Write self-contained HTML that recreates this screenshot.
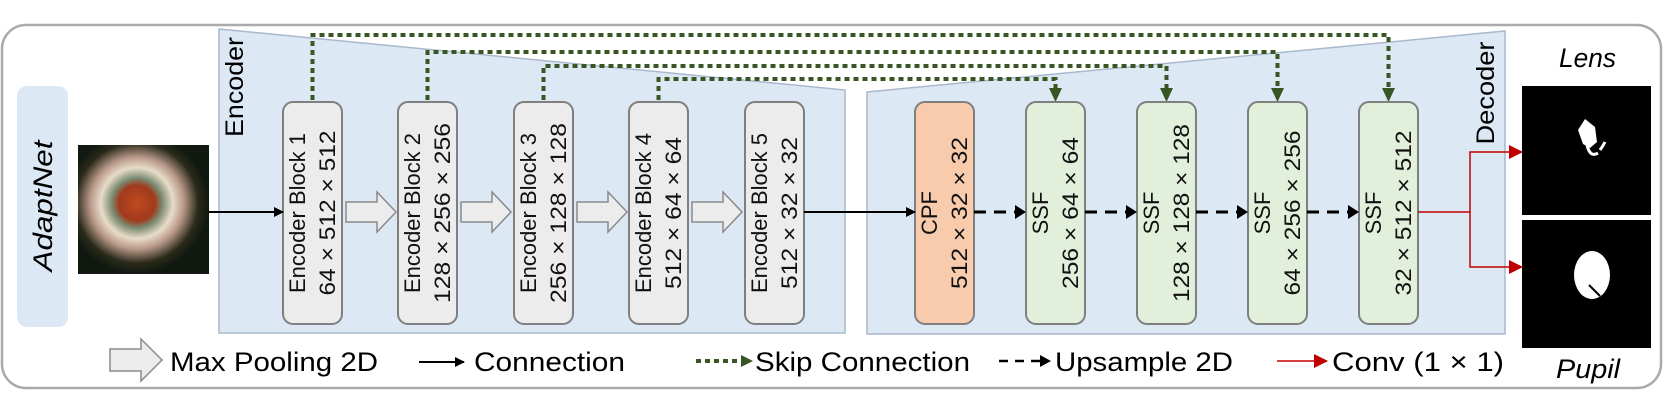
<!DOCTYPE html>
<html><head><meta charset="utf-8"><style>html,body{margin:0;padding:0;background:#fff;}svg{display:block}</style></head>
<body>
<svg width="1664" height="410" viewBox="0 0 1664 410" xmlns="http://www.w3.org/2000/svg" font-family="Liberation Sans, sans-serif">
<defs>
<marker id="ab" markerWidth="10" markerHeight="10" refX="9" refY="5" orient="auto" markerUnits="userSpaceOnUse"><path d="M0,0 L10,5 L0,10 z" fill="#000"/></marker>
<marker id="ar" markerWidth="14" markerHeight="14" refX="13" refY="7" orient="auto" markerUnits="userSpaceOnUse"><path d="M0,0 L14,7 L0,14 z" fill="#c00000"/></marker>
<radialGradient id="eye" cx="0.45" cy="0.45" r="0.55">
<stop offset="0" stop-color="#c04a20"/><stop offset="0.25" stop-color="#a03a1c"/><stop offset="0.35" stop-color="#7a8a70"/><stop offset="0.5" stop-color="#e8dcc8"/><stop offset="0.65" stop-color="#b89888"/><stop offset="0.85" stop-color="#2a2a1a"/><stop offset="1" stop-color="#101810"/>
</radialGradient>
</defs>
<rect x="2" y="25" width="1659" height="363" rx="24" fill="#fff" stroke="#aaa" stroke-width="2.5"/>
<rect x="17" y="86" width="51" height="241" rx="10" fill="#dde8f5"/>
<text transform="translate(52,206) rotate(-90)" text-anchor="middle" font-size="27" font-style="italic" textLength="131" lengthAdjust="spacingAndGlyphs">AdaptNet</text>
<rect x="78" y="145" width="131" height="129" fill="url(#eye)"/>
<polygon points="219,29 845,90 845,333 219,333" fill="#dde8f5" stroke="#a9b8cc" stroke-width="1.5"/>
<polygon points="867,92 1505,31 1505,334 867,334" fill="#dde8f5" stroke="#a9b8cc" stroke-width="1.5"/>
<text transform="translate(243,87) rotate(-90)" text-anchor="middle" font-size="25" textLength="100" lengthAdjust="spacingAndGlyphs">Encoder</text>
<text transform="translate(1494,93) rotate(-90)" text-anchor="middle" font-size="25" textLength="103" lengthAdjust="spacingAndGlyphs">Decoder</text>
<g fill="none" stroke="#375623" stroke-width="4" stroke-dasharray="5 4">
<path d="M312.5,100 V35 H1388.5 V88"/>
<path d="M427.5,100 V52 H1277.5 V88"/>
<path d="M543.5,100 V66 H1166.5 V88"/>
<path d="M658.5,100 V79 H1055.5 V88"/>
</g>
<g fill="#375623">
<path d="M1049,88 L1062,88 L1055.5,102 z"/><path d="M1160,88 L1173,88 L1166.5,102 z"/><path d="M1271,88 L1284,88 L1277.5,102 z"/><path d="M1382,88 L1395,88 L1388.5,102 z"/>
</g>
<g stroke="#7f7f7f" stroke-width="2" fill="#ececec">
<rect x="283" y="102" width="59" height="222" rx="10"/><rect x="398" y="102" width="59" height="222" rx="10"/><rect x="514" y="102" width="59" height="222" rx="10"/><rect x="629" y="102" width="59" height="222" rx="10"/><rect x="745" y="102" width="59" height="222" rx="10"/>
<rect x="915" y="102" width="59" height="222" rx="10" fill="#f8cbad"/>
<rect x="1026" y="102" width="59" height="222" rx="10" fill="#e2efda"/><rect x="1137" y="102" width="59" height="222" rx="10" fill="#e2efda"/><rect x="1248" y="102" width="59" height="222" rx="10" fill="#e2efda"/><rect x="1359" y="102" width="59" height="222" rx="10" fill="#e2efda"/>
</g>
<g font-size="22" text-anchor="middle" fill="#111">
<text transform="translate(305,213) rotate(-90)" textLength="160" lengthAdjust="spacingAndGlyphs">Encoder Block 1</text><text transform="translate(335,213) rotate(-90)" textLength="165" lengthAdjust="spacingAndGlyphs">64 × 512 × 512</text>
<text transform="translate(420,213) rotate(-90)" textLength="160" lengthAdjust="spacingAndGlyphs">Encoder Block 2</text><text transform="translate(450,213) rotate(-90)" textLength="180" lengthAdjust="spacingAndGlyphs">128 × 256 × 256</text>
<text transform="translate(536,213) rotate(-90)" textLength="160" lengthAdjust="spacingAndGlyphs">Encoder Block 3</text><text transform="translate(566,213) rotate(-90)" textLength="180" lengthAdjust="spacingAndGlyphs">256 × 128 × 128</text>
<text transform="translate(651,213) rotate(-90)" textLength="160" lengthAdjust="spacingAndGlyphs">Encoder Block 4</text><text transform="translate(681,213) rotate(-90)" textLength="152" lengthAdjust="spacingAndGlyphs">512 × 64 × 64</text>
<text transform="translate(767,213) rotate(-90)" textLength="160" lengthAdjust="spacingAndGlyphs">Encoder Block 5</text><text transform="translate(797,213) rotate(-90)" textLength="152" lengthAdjust="spacingAndGlyphs">512 × 32 × 32</text>
<text transform="translate(937,213) rotate(-90)">CPF</text><text transform="translate(967,213) rotate(-90)" textLength="152" lengthAdjust="spacingAndGlyphs">512 × 32 × 32</text>
<text transform="translate(1048,213) rotate(-90)">SSF</text><text transform="translate(1078,213) rotate(-90)" textLength="152" lengthAdjust="spacingAndGlyphs">256 × 64 × 64</text>
<text transform="translate(1159,213) rotate(-90)">SSF</text><text transform="translate(1189,213) rotate(-90)" textLength="178" lengthAdjust="spacingAndGlyphs">128 × 128 × 128</text>
<text transform="translate(1270,213) rotate(-90)">SSF</text><text transform="translate(1300,213) rotate(-90)" textLength="165" lengthAdjust="spacingAndGlyphs">64 × 256 × 256</text>
<text transform="translate(1381,213) rotate(-90)">SSF</text><text transform="translate(1411,213) rotate(-90)" textLength="165" lengthAdjust="spacingAndGlyphs">32 × 512 × 512</text>
</g>
<g fill="#ececec" stroke="#8a8a8a" stroke-width="1.5">
<path d="M346,202 H377 V192 L396,212 L377,232 V222 H346 z"/>
<path d="M461,202 H492 V192 L511,212 L492,232 V222 H461 z"/>
<path d="M577,202 H608 V192 L627,212 L608,232 V222 H577 z"/>
<path d="M692,202 H723 V192 L742,212 L723,232 V222 H692 z"/>
<path d="M110,349 H141 V339 L162,360 L141,381 V371 H110 z"/>
</g>
<g stroke="#000" stroke-width="2" fill="none">
<line x1="209" y1="212" x2="283" y2="212" marker-end="url(#ab)"/>
<line x1="804" y1="212" x2="915" y2="212" marker-end="url(#ab)"/>
<line x1="419" y1="362" x2="464" y2="362" marker-end="url(#ab)"/>
</g>
<g stroke="#000" stroke-width="3" stroke-dasharray="12 8" fill="none">
<line x1="974" y1="212" x2="1016" y2="212"/><line x1="1085" y1="212" x2="1127" y2="212"/><line x1="1196" y1="212" x2="1238" y2="212"/><line x1="1307" y1="212" x2="1349" y2="212"/>
</g>
<g stroke="#000" stroke-width="2.5" fill="none"><line x1="999" y1="361" x2="1008" y2="361"/><line x1="1015" y1="361" x2="1024" y2="361"/><line x1="1031" y1="361" x2="1040" y2="361"/></g>
<g fill="#000">
<path d="M1015,205 L1026,212 L1015,219 z"/><path d="M1126,205 L1137,212 L1126,219 z"/><path d="M1237,205 L1248,212 L1237,219 z"/><path d="M1348,205 L1359,212 L1348,219 z"/><path d="M1040,355 L1051,361 L1040,367 z"/>
</g>
<g stroke="#c00000" stroke-width="1.5" fill="none">
<path d="M1418,212 H1470 V152 H1522" marker-end="url(#ar)"/>
<path d="M1470,212 V267 H1522" marker-end="url(#ar)"/>
<line x1="1277" y1="361" x2="1327" y2="361" marker-end="url(#ar)"/>
</g>
<g fill="none" stroke="#375623" stroke-width="4" stroke-dasharray="5 4"><line x1="696" y1="361" x2="742" y2="361"/></g>
<path d="M741,355 L753,361 L741,367 z" fill="#375623"/>
<rect x="1522" y="86" width="129" height="129" fill="#000"/>
<rect x="1522" y="220" width="129" height="128" fill="#000"/>
<path d="M1578,130 L1585,119 L1595,127 L1597,142 L1590,148 L1583,144 z" fill="#fff"/>
<path d="M1587,145 Q1590,158 1598,153 M1600,150 Q1603,146 1605,142" stroke="#fff" stroke-width="3" fill="none"/>
<ellipse cx="1592" cy="275" rx="18" ry="24" fill="#fff"/>
<line x1="1589" y1="285" x2="1600" y2="296" stroke="#000" stroke-width="2"/>
<g font-size="27" fill="#000">
<text x="1559" y="67" font-style="italic" textLength="57" lengthAdjust="spacingAndGlyphs">Lens</text>
<text x="1556" y="378" font-style="italic" textLength="64" lengthAdjust="spacingAndGlyphs">Pupil</text>
<text x="170" y="371" textLength="208" lengthAdjust="spacingAndGlyphs">Max Pooling 2D</text>
<text x="474" y="371" textLength="151" lengthAdjust="spacingAndGlyphs">Connection</text>
<text x="755" y="371" textLength="215" lengthAdjust="spacingAndGlyphs">Skip Connection</text>
<text x="1055" y="371" textLength="178" lengthAdjust="spacingAndGlyphs">Upsample 2D</text>
<text x="1332" y="371" textLength="172" lengthAdjust="spacingAndGlyphs">Conv (1 × 1)</text>
</g>
</svg>
</body></html>
